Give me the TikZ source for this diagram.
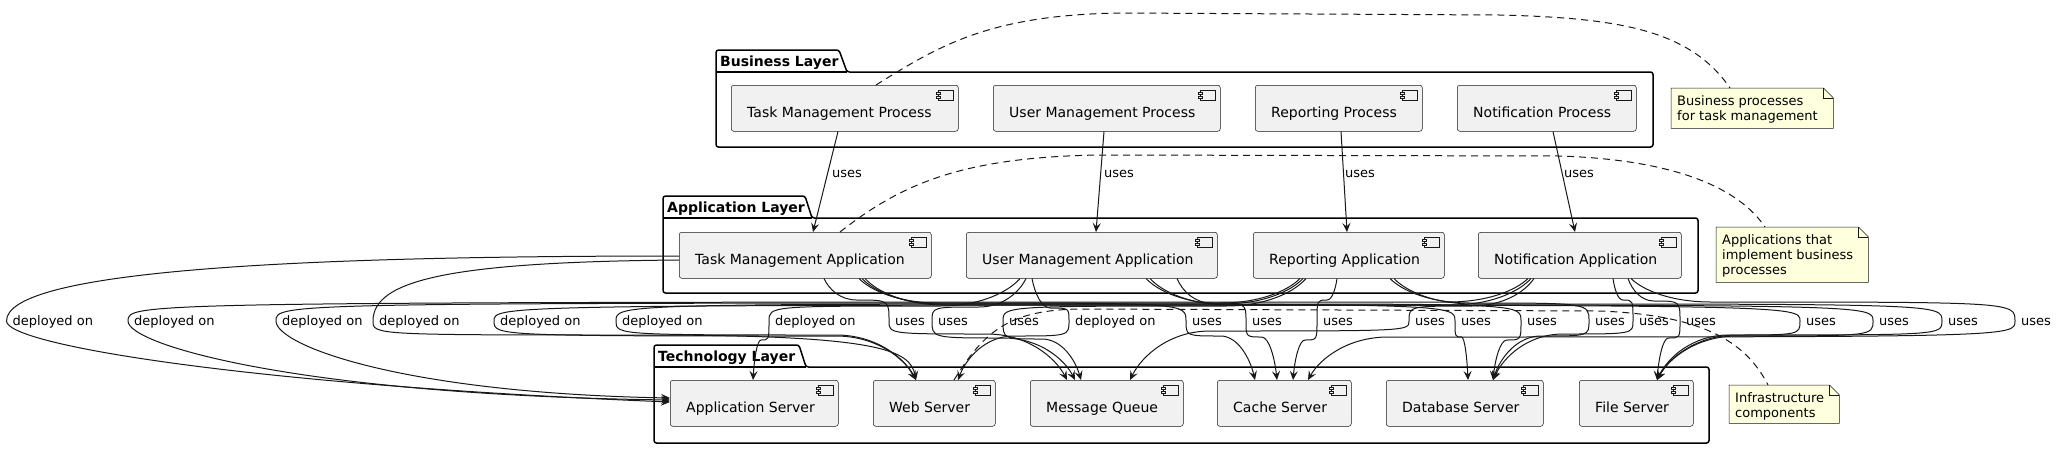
\documentclass[tikz,border=0pt]{standalone}
\usepackage{fontspec}
\setmainfont{DejaVu Sans}
\usetikzlibrary{arrows.meta,calc}
\definecolor{c18}{HTML}{181818}
\definecolor{boxfill}{HTML}{F1F1F1}
\definecolor{notefill}{HTML}{FEFFDD}
\tikzset{
  compbox/.style={draw=c18, line width=0.5pt, fill=boxfill, rounded corners=2.5pt, inner sep=0pt, anchor=north west},
  iconline/.style={draw=c18, line width=0.5pt, fill=boxfill},
  comptext/.style={anchor=base west, inner sep=0pt, font=\fontsize{14}{16}\selectfont, text=black},
  pkgline/.style={draw=black, line width=1.5pt, rounded corners=2.5pt},
  pkgtitle/.style={anchor=base west, inner sep=0pt, font=\fontsize{14}{16}\selectfont\bfseries},
  notebody/.style={draw=c18, line width=0.5pt, fill=notefill},
  noteline/.style={draw=c18, line width=0.5pt},
  notetext/.style={anchor=north west, inner sep=0pt, align=left, font=\fontsize{13}{15}\selectfont},
  conn/.style={draw=c18, line width=1pt, -{Stealth[length=9pt,width=8pt,inset=3.5pt]}},
  lbl/.style={anchor=base west, inner sep=0pt, font=\fontsize{13}{15}\selectfont, text=black},
  notelink/.style={draw=c18, line width=1pt, dash pattern=on 7pt off 5pt},
}
\newcommand\mycomp[6]{%
  \node[compbox, minimum width=#4pt, minimum height=#5pt] (#1) at (#2,#3) {};
  \draw[iconline] ($(#1.north east)+(-20,-5)$) rectangle ++(15pt,-10pt);
  \draw[iconline] ($(#1.north east)+(-22,-7)$) rectangle ++(4pt,-2pt);
  \draw[iconline] ($(#1.north east)+(-22,-11)$) rectangle ++(4pt,-2pt);
  \node[comptext] (#1-t) at ($(#1.north west)+(16,-32)$) {#6};
}
\newcommand\mynote[6]{%
  \node[inner sep=0pt, anchor=north west, minimum width=#4pt, minimum height=#5pt] (#1) at (#2,#3) {};
  \draw[notebody] (#1.north west) -- ($(#1.north east)+(-10,0)$) -- ($(#1.north east)+(0,-10)$) -- (#1.south east) -- (#1.south west) -- cycle;
  \draw[noteline] ($(#1.north east)+(-10,0)$) -- ($(#1.north east)+(-10,-10)$) -- ($(#1.north east)+(0,-10)$);
  \node[notetext] (#1-t) at ($(#1.north west)+(6,-7)$) {#6};
}
% generic link: start, h1, Lx, text, h2, target, label name
\newcommand\lnk[7]{%
  \draw[conn] let \p1=(#1), \p2=(#6),
     \n1={max(-80,min(80,(#3-\x1/1pt)/2))},
     \n2={max(-80,min(80,(\x2/1pt-#3)/2))},
     \n3={\x1/1pt}, \n4={\y1/1pt}, \n5={\x2/1pt}, \n6={\y2/1pt} in
    (#1) .. controls ({\n3+0.15*\n1},{(\n4+#2)/2}) and ({\n3+0.5*\n1},#2) .. ({\n3+\n1},#2)
    .. controls (#3,#2) and (#3,#2) .. (#3,-321)
    .. controls (#3,#5) and (#3,#5) .. ({\n5-\n2},#5)
    .. controls ({\n5-0.5*\n2},#5) and ({\n5-0.15*\n2},{(#5+\n6)/2}) .. (#6);
  \node[lbl] (#7) at ({#3+6},-325) {#4};
}
% link ending on the west side of Application Server
\newcommand\lnkA[9]{%
  \draw[conn] let \p1=(#1),
     \n1={max(-80,min(80,(#3-\x1/1pt)/2))},
     \n3={\x1/1pt}, \n4={\y1/1pt} in
    (#1) .. controls ({\n3+0.15*\n1},{(\n4+#2)/2}) and ({\n3+0.5*\n1},#2) .. ({\n3+\n1},#2)
    .. controls (#3,#2) and (#3,#2) .. (#3,-321)
    .. controls (#3,#5) and (#6,#7) .. (#8);
  \node[lbl] (#9) at ({#3+6},-325) {#4};
}
\begin{document}
\begin{tikzpicture}[x=1pt,y=1pt]
\useasboundingbox (0,0) rectangle (2056,-448);
\fill[white] (0,0) rectangle (2056,-448);

% ---------- packages ----------
\draw[pkgline] (716,-147) -- (716,-50) -- (839,-50) -- (847,-72) -- (1653,-72) -- (1653,-147) -- cycle;
\draw[pkgline] (716,-72) -- (847,-72);
\node[pkgtitle] (bl-t) at (720,-66) {Business Layer};

\draw[pkgline] (663,-293) -- (663,-196) -- (805,-196) -- (812,-218) -- (1698,-218) -- (1698,-293) -- cycle;
\draw[pkgline] (663,-218) -- (812,-218);
\node[pkgtitle] (al-t) at (667,-212) {Application Layer};

\draw[pkgline] (654,-443) -- (654,-345) -- (799,-345) -- (806,-367) -- (1709,-367) -- (1709,-443) -- cycle;
\draw[pkgline] (654,-367) -- (806,-367);
\node[pkgtitle] (tl-t) at (658,-361) {Technology Layer};

% ---------- components ----------
\mycomp{tmp}{731}{-85}{227}{46}{Task Management Process}
\mycomp{ump}{993}{-85}{227}{46}{User Management Process}
\mycomp{rp}{1255}{-85}{167}{46}{Reporting Process}
\mycomp{np}{1457}{-85}{179}{46}{Notification Process}

\mycomp{tma}{679}{-232}{252}{46}{Task Management Application}
\mycomp{uma}{966}{-232}{251}{46}{User Management Application}
\mycomp{ra}{1253}{-232}{191}{46}{Reporting Application}
\mycomp{na}{1478}{-232}{203}{46}{Notification Application}

\mycomp{as}{670}{-380}{168}{46}{Application Server}
\mycomp{ws}{873}{-380}{122}{46}{Web Server}
\mycomp{mq}{1030}{-380}{153}{46}{Message Queue}
\mycomp{cs}{1217}{-380}{134}{46}{Cache Server}
\mycomp{ds}{1386}{-380}{157}{46}{Database Server}
\mycomp{fs}{1579}{-380}{114}{46}{File Server}

% ---------- notes ----------
\mynote{n1}{1671}{-88}{162}{40}{Business processes\\for task management}
\mynote{n2}{1716}{-227}{152}{55}{Applications that\\implement business\\processes}
\mynote{n3}{1729}{-385}{110}{38}{Infrastructure\\components}

\draw[notelink] ($(tmp.north west)+(145,0)$) .. controls (940,-45) and (990,-15) .. (1120,-13) -- (1500,-15) .. controls (1620,-18) and (1690,-30) .. ($(n1.north west)+(59,0)$);
\draw[notelink] ($(tma.north west)+(161,0)$) .. controls (900,-185) and (960,-157) .. (1100,-155) -- (1560,-156) .. controls (1680,-160) and (1740,-190) .. ($(n2.north west)+(49,0)$);
\draw[notelink] ($(ws.north west)+(81,0)$) .. controls (985,-330) and (1010,-310) .. (1080,-309) -- (1600,-311) .. controls (1700,-315) and (1745,-340) .. ($(n3.north west)+(39,0)$);

% ---------- business -> application ----------
\draw[conn] ($(tmp.south west)+(107,0)$) -- ($(tma.north west)+(134,0)$);
\node[lbl] (u1) at (832,-177) {uses};
\draw[conn] ($(ump.south west)+(111,0)$) -- ($(uma.north west)+(130,0)$);
\node[lbl] (u2) at (1104,-177) {uses};
\draw[conn] ($(rp.south west)+(86,0)$) -- ($(ra.north west)+(94,0)$);
\node[lbl] (u3) at (1345,-177) {uses};
\draw[conn] ($(np.south west)+(96,0)$) -- ($(na.north west)+(97,0)$);
\node[lbl] (u4) at (1564,-177) {uses};

% ---------- exit points ----------
\coordinate (ta-mq) at ($(tma.south west)+(145,0)$);
\coordinate (ta-cs) at ($(tma.south west)+(180,0)$);
\coordinate (ta-ds) at ($(tma.south west)+(183,0)$);
\coordinate (ta-fs) at ($(tma.south west)+(186,0)$);
\coordinate (ta-as) at ($(tma.north west)+(0,-24)$);
\coordinate (ta-ws) at ($(tma.north west)+(0,-28)$);
\coordinate (ua-as) at ($(uma.south west)+(54,0)$);
\coordinate (ua-mq) at ($(uma.south west)+(60,0)$);
\coordinate (ua-ws) at ($(uma.south west)+(66,0)$);
\coordinate (ua-cs) at ($(uma.south west)+(211,0)$);
\coordinate (ua-ds) at ($(uma.south west)+(180,0)$);
\coordinate (ua-fs) at ($(uma.south west)+(184,0)$);
\coordinate (ra-as) at ($(ra.south west)+(47,0)$);
\coordinate (ra-ws) at ($(ra.south west)+(50,0)$);
\coordinate (ra-mq) at ($(ra.south west)+(53,0)$);
\coordinate (ra-cs) at ($(ra.south west)+(84,0)$);
\coordinate (ra-ds) at ($(ra.south west)+(137,0)$);
\coordinate (ra-fs) at ($(ra.south west)+(141,0)$);
\coordinate (na-as) at ($(na.south west)+(50,0)$);
\coordinate (na-ws) at ($(na.south west)+(53,0)$);
\coordinate (na-mq) at ($(na.south west)+(56,0)$);
\coordinate (na-ds) at ($(na.south west)+(135,0)$);
\coordinate (na-fs) at ($(na.south west)+(150,0)$);
\coordinate (na-cs) at ($(na.south west)+(153,0)$);
% ---------- entry points ----------
\coordinate (as-w1) at ($(as.north west)+(0,-18)$);
\coordinate (as-w2) at ($(as.north west)+(0,-20)$);
\coordinate (as-w3) at ($(as.north west)+(0,-22)$);
\coordinate (as-n) at ($(as.north west)+(83,0)$);
\coordinate (ws-n1) at ($(ws.north west)+(43,0)$);
\coordinate (ws-n2) at ($(ws.north west)+(85,0)$);
\coordinate (mq-n1) at ($(mq.north west)+(37,0)$);
\coordinate (mq-n2) at ($(mq.north west)+(45,0)$);
\coordinate (mq-n3) at ($(mq.north west)+(51,0)$);
\coordinate (mq-n4) at ($(mq.north west)+(100,0)$);
\coordinate (cs-n1) at ($(cs.north west)+(38,0)$);
\coordinate (cs-n2) at ($(cs.north west)+(60,0)$);
\coordinate (cs-n3) at ($(cs.north west)+(76,0)$);
\coordinate (cs-n4) at ($(cs.north west)+(91,0)$);
\coordinate (ds-n1) at ($(ds.north west)+(82,0)$);
\coordinate (ds-n2) at ($(ds.north west)+(107,0)$);
\coordinate (fs-n) at ($(fs.north west)+(78,0)$);

% ---------- application -> technology ----------
\draw[conn] (ta-as) .. controls (300,-256) and (6.5,-270) .. (6.5,-321) .. controls (6.5,-345) and (250,-385) .. (as-w3);
\node[lbl] (d1) at (12.5,-325) {deployed on};
\lnkA{na-as}{-302}{128}{deployed on}{-345}{300}{-395}{as-w2}{d2}
\lnkA{ra-as}{-303}{276}{deployed on}{-345}{400}{-393}{as-w1}{d3}
\draw[conn] (ta-ws) .. controls (450,-262) and (373,-280) .. (373,-321) .. controls (373,-335) and (373,-335) .. (644.5,-335) .. controls (880,-335) and (910,-350) .. (ws-n1);
\node[lbl] (d4) at (379,-325) {deployed on};
\lnk{na-ws}{-305}{494}{deployed on}{-336}{ws-n1}{d5}
\lnk{ra-ws}{-304}{616}{deployed on}{-335}{ws-n1}{d6}
\lnk{ua-as}{-306}{769}{deployed on}{-340}{as-n}{d7}
\lnk{ua-ws}{-308}{1069}{deployed on}{-336}{ws-n2}{d8}

\lnk{ta-mq}{-300}{889}{uses}{-334}{mq-n1}{u5}
\lnk{ua-mq}{-307}{932}{uses}{-338}{mq-n2}{u6}
\lnk{ra-mq}{-306}{1003}{uses}{-339}{mq-n3}{u7}
\lnk{ta-cs}{-303}{1186}{uses}{-336}{cs-n1}{u8}
\lnk{ua-cs}{-303}{1246}{uses}{-337}{cs-n2}{u9}
\lnk{ra-cs}{-300}{1317}{uses}{-340}{cs-n3}{u10}
\lnk{na-mq}{-306}{1409}{uses}{-331}{mq-n4}{u11}
\lnk{ta-ds}{-304}{1455}{uses}{-337}{ds-n1}{u12}
\lnk{ua-ds}{-304}{1521}{uses}{-340}{ds-n2}{u13}
\lnk{ra-ds}{-303}{1589}{uses}{-336}{ds-n2}{u14}
\lnk{na-ds}{-300}{1633}{uses}{-334}{ds-n2}{u15}
\lnk{na-fs}{-301}{1680}{uses}{-338}{fs-n}{u16}
\lnk{ta-fs}{-305}{1800}{uses}{-335}{fs-n}{u17}
\lnk{ua-fs}{-305}{1873}{uses}{-336}{fs-n}{u18}
\lnk{ra-fs}{-304}{1942}{uses}{-335}{fs-n}{u19}
\lnk{na-cs}{-302}{2015}{uses}{-337}{cs-n4}{u20}
\end{tikzpicture}
\end{document}
